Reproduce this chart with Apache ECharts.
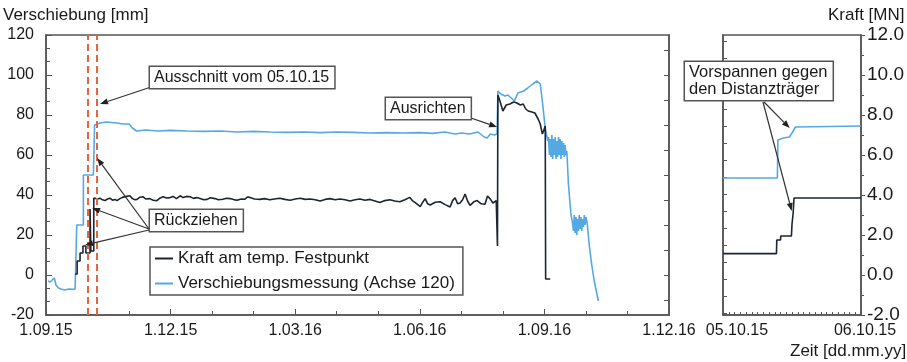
<!DOCTYPE html>
<html><head><meta charset="utf-8">
<script src="https://cdn.jsdelivr.net/npm/echarts@6/dist/echarts.min.js"></script>
<style>html,body{margin:0;padding:0;background:#fff}#c{width:907px;height:362px}</style>
</head><body><div id="c"></div>
<script>
// ---------- DATA ----------
// Left panel: x = months since 1.09.15
const xTickLabels = ['1.09.15', '1.12.15', '1.03.16', '1.06.16', '1.09.16', '1.12.16'];
const zoomTickLabels = ['05.10.15', '06.10.15'];
const seriesNames = ['Kraft am temp. Festpunkt', 'Verschiebungsmessung (Achse 120)'];
// Kraft [MN]
const kraftLeft = [
[0.70,0.05],[0.75,0.05],[0.75,0.70],[0.82,0.70],[0.82,1.10],[0.89,1.10],[0.89,1.45],[0.96,1.45],[0.96,1.10],[1.06,1.10],[1.06,3.30],[1.08,3.30],[1.08,1.20],[1.15,1.20],[1.15,3.85],
[1.18,3.87],[1.24,3.80],[1.30,3.84],[1.36,3.76],[1.42,3.72],[1.48,3.80],[1.54,3.84],[1.60,3.74],[1.66,3.78],[1.71,3.72],[1.78,3.82],[1.84,3.88],[1.88,3.85],[1.94,3.93],[2.02,3.96],[2.08,3.82],[2.14,3.76],[2.19,3.78],[2.26,3.89],[2.34,3.91],[2.40,3.80],[2.50,3.82],[2.58,3.74],[2.67,3.72],[2.74,3.84],[2.82,3.91],[2.90,3.85],[2.99,3.87],[3.06,3.93],[3.14,3.82],[3.23,3.96],[3.30,3.87],[3.38,3.93],[3.47,3.91],[3.55,3.83],[3.63,3.87],[3.71,3.82],[3.80,3.76],[3.88,3.78],[3.96,3.86],[4.07,3.82],[4.15,3.76],[4.26,3.79],[4.34,3.84],[4.43,3.82],[4.52,3.77],[4.60,3.74],[4.70,3.80],[4.79,3.79],[4.85,3.90],[4.91,3.88],[5.02,3.80],[5.15,3.78],[5.26,3.82],[5.39,3.76],[5.50,3.80],[5.63,3.84],[5.75,3.78],[5.88,3.74],[6.00,3.80],[6.12,3.84],[6.24,3.78],[6.36,3.80],[6.48,3.76],[6.60,3.70],[6.72,3.78],[6.84,3.82],[6.96,3.76],[7.08,3.80],[7.20,3.76],[7.32,3.70],[7.44,3.76],[7.56,3.80],[7.68,3.74],[7.80,3.78],[7.92,3.70],[8.04,3.62],[8.16,3.72],[8.28,3.76],[8.40,3.70],[8.52,3.66],[8.64,3.76],[8.76,3.88],[8.82,3.72],[8.89,3.62],[8.95,3.52],[9.01,3.42],[9.07,3.64],[9.13,3.82],[9.19,3.56],[9.25,3.50],[9.37,3.64],[9.49,3.66],[9.61,3.52],[9.73,3.40],[9.79,3.72],[9.85,3.86],[9.91,3.56],[9.97,3.60],[10.03,3.76],[10.09,4.05],[10.15,3.70],[10.21,3.48],[10.30,3.66],[10.38,3.72],[10.48,3.56],[10.57,3.54],[10.63,3.95],[10.69,3.82],[10.76,3.60],[10.84,3.72],[10.86,3.70],
[10.87,1.45],[10.88,9.00],[10.93,8.70],[11.00,8.20],[11.08,8.50],[11.17,8.55],[11.26,8.65],[11.34,8.60],[11.42,8.50],[11.49,8.55],[11.55,8.30],[11.61,8.20],[11.70,8.15],[11.77,8.10],[11.85,7.80],[11.90,7.55],[11.95,7.05],[11.98,7.20],[12.02,7.45],[12.03,-0.20],[12.14,-0.20]
];
// Verschiebung [mm]
const verschiebungLeft = [
[0.05,-3],[0.10,-3.5],[0.15,-2.5],[0.20,-1.5],[0.24,-5],[0.30,-6.5],[0.36,-7],[0.45,-7.5],[0.55,-7],[0.65,-7.2],[0.70,-7],[0.71,0.5],[0.74,0.5],[0.74,25],[0.90,25],[0.90,50],[1.14,50],[1.17,75],
[1.20,75.5],[1.30,76],[1.45,76.5],[1.70,76],[1.85,75.5],[2.00,75.5],[2.08,73.5],[2.18,72],[2.40,72.5],[2.70,72],[3.00,72.3],[3.40,72],[3.80,71.8],[4.20,72],[4.60,71.5],[5.00,71.8],[5.40,71.5],[5.80,71.3],[6.20,71.5],[6.60,71.2],[7.00,71.5],[7.40,71.3],[7.80,71],[8.20,71.2],[8.60,71],[9.00,71.2],[9.30,70.8],[9.60,71.5],[9.85,70.5],[10.00,71],[10.20,70.5],[10.40,71.5],[10.55,69],[10.62,68.5],[10.70,70.5],[10.80,70],[10.86,70.5],
[10.88,92],[10.95,90.5],[11.05,89.5],[11.12,90],[11.20,88.5],[11.28,87],[11.36,91],[11.50,92],[11.60,93.5],[11.72,95.5],[11.82,97],[11.90,95.5],[11.95,87],[12.02,73.5],[12.08,67],
[12.10,69],[12.12,60],[12.14,68],[12.16,59],[12.18,70],[12.20,58],[12.22,68],[12.24,60],[12.26,69],[12.28,58],[12.30,67],[12.32,59],[12.34,69],[12.36,60],[12.38,68],[12.40,58],[12.42,67],[12.44,60],[12.46,66],[12.48,59],[12.50,65],[12.52,60],[12.54,62],
[12.58,45],[12.64,30],[12.67,27],[12.70,22],[12.72,30],[12.74,21],[12.76,29],[12.78,20],[12.80,28],[12.82,22],[12.84,30],[12.86,23],[12.88,29],[12.90,22],[12.92,28],[12.94,24],[12.96,30],[12.98,25],[13.00,29],[13.03,26],
[13.08,15],[13.14,5],[13.20,-3],[13.26,-9],[13.30,-13]
];
// Right panel: x = hours on 05.10.15
const kraftRight = [[0,1.07],[9.3,1.07],[9.35,1.75],[10.0,1.75],[10.05,1.95],[11.9,1.95],[12.0,2.55],[12.2,3.1],[12.35,3.85],[24,3.85]];
const verschiebungRight = [[0,48.5],[9.45,48.5],[9.55,67.5],[10.5,68.5],[11.55,69],[12.0,71],[12.3,72],[12.6,74],[24,74.5]];
// window of the detail view (months), shown as dashed lines
const cutoutMarks = [1.01, 1.23];

// ---------- STYLE ----------
const FONT = 'Liberation Sans';
const TXT = '#1a1a1a';
const AX = '#555';
const C_K = '#1d2531';
const C_V = '#55a9e3';

const chart = echarts.init(document.getElementById('c'), null, {renderer: 'canvas'});
const axLine = {show: true, onZero: false, lineStyle: {color: AX, width: 1.5}};
const lbl = {fontFamily: FONT, fontSize: 16, color: TXT};
const range = (a, b, s) => { const r = []; for (let v = a; v <= b + 1e-9; v += s) r.push(+v.toFixed(4)); return r; };

const option = {
  animation: false,
  backgroundColor: '#fff',
  textStyle: {fontFamily: FONT},
  grid: [
    {left: 46, top: 35, width: 623, height: 280, show: true, borderColor: AX, borderWidth: 1.5, backgroundColor: 'transparent'},
    {left: 723, top: 35, width: 139, height: 280, show: true, borderColor: AX, borderWidth: 1.5, backgroundColor: 'transparent'}
  ],
  legend: {
    left: 150, top: 247, orient: 'vertical', itemGap: 8, itemWidth: 18, itemHeight: 2,
    padding: [3, 8, 3, 5], borderColor: AX, borderWidth: 1.5, backgroundColor: '#fff',
    icon: 'rect', data: seriesNames,
    textStyle: {fontFamily: FONT, fontSize: 17, color: TXT, lineHeight: 16}
  },
  xAxis: [
    {type: 'value', gridIndex: 0, min: 0, max: 15, interval: 3,
     axisLine: axLine, axisTick: {inside: true, length: 6, lineStyle: {color: AX}},
     minorTick: {show: true, splitNumber: 3, length: 4, lineStyle: {color: AX}},
     splitLine: {show: false}, minorSplitLine: {show: false},
     axisLabel: Object.assign({margin: 8, formatter: v => xTickLabels[Math.round(v / 3)]}, lbl)},
    {type: 'value', gridIndex: 1, min: 0, max: 24, interval: 24,
     axisLine: axLine, axisTick: {inside: true, length: 4, lineStyle: {color: AX}},
     minorTick: {show: true, splitNumber: 24, length: 3, lineStyle: {color: AX}},
     splitLine: {show: false}, minorSplitLine: {show: false},
     axisLabel: Object.assign({margin: 8,
       formatter: v => v === 0 ? '{a|' + zoomTickLabels[0] + '}' : '{b|' + zoomTickLabels[1] + '}',
       rich: {a: Object.assign({padding: [0, 0, 0, 28]}, lbl), b: Object.assign({padding: [0, 0, 0, 8]}, lbl)}}, lbl)}
  ],
  yAxis: [
    {type: 'value', gridIndex: 0, position: 'left', min: -20, max: 120, interval: 20,
     axisLine: axLine, axisTick: {inside: true, length: 6, lineStyle: {color: AX}},
     minorTick: {show: true, splitNumber: 3, length: 4, lineStyle: {color: AX}},
     splitLine: {show: false}, minorSplitLine: {show: false},
     axisLabel: Object.assign({margin: 12}, lbl)},
    {type: 'value', gridIndex: 0, position: 'right', min: -2, max: 12,
     axisLine: axLine, axisTick: {inside: true, length: 5, lineStyle: {color: AX}, customValues: range(-1.25, 11.25, 1.25)},
     splitLine: {show: false}, axisLabel: {show: false}},
    {type: 'value', gridIndex: 1, position: 'left', min: -20, max: 120,
     axisLine: axLine, axisTick: {inside: true, length: 4, lineStyle: {color: AX}, customValues: range(-19, 117, 8.5)},
     splitLine: {show: false}, axisLabel: {show: false}},
    {type: 'value', gridIndex: 1, position: 'right', min: -2, max: 12, interval: 2,
     axisLine: axLine, axisTick: {inside: false, length: 4, lineStyle: {color: AX}},
     minorTick: {show: true, splitNumber: 2, length: 3, lineStyle: {color: AX}},
     splitLine: {show: false}, minorSplitLine: {show: false},
     axisLabel: Object.assign({}, lbl, {margin: 6, fontSize: 19, formatter: v => v.toFixed(1)})}
  ],
  series: [
    {name: seriesNames[0], type: 'line', xAxisIndex: 0, yAxisIndex: 1, data: kraftLeft, showSymbol: false, symbol: 'none',
     lineStyle: {color: C_K, width: 1.6}, itemStyle: {color: C_K}, z: 3},
    {name: seriesNames[1], type: 'line', xAxisIndex: 0, yAxisIndex: 0, data: verschiebungLeft, showSymbol: false, symbol: 'none',
     lineStyle: {color: C_V, width: 1.6}, itemStyle: {color: C_V}, z: 2,
     markLine: {silent: true, symbol: 'none', label: {show: false},
       lineStyle: {color: '#e8643c', type: [7, 4], width: 2},
       data: cutoutMarks.map(m => ({xAxis: m}))}},
    {name: seriesNames[0], type: 'line', xAxisIndex: 1, yAxisIndex: 3, data: kraftRight, showSymbol: false, symbol: 'none',
     lineStyle: {color: C_K, width: 1.6}, itemStyle: {color: C_K}, z: 3},
    {name: seriesNames[1], type: 'line', xAxisIndex: 1, yAxisIndex: 2, data: verschiebungRight, showSymbol: false, symbol: 'none',
     lineStyle: {color: C_V, width: 1.6}, itemStyle: {color: C_V}, z: 2}
  ]
};
chart.setOption(option);

// ---------- ANNOTATIONS ----------
const annotations = [
  {text: 'Ausschnitt vom 05.10.15', x: 150, y: 67, arrows: [{from: [151, 87], axes: [0, 0], to: [1.30, 85.5]}]},
  {text: 'Rückziehen', x: 150, y: 210, arrows: [
     {from: [149, 229], axes: [0, 0], to: [1.23, 58.5]},
     {from: [149, 229], axes: [0, 0], to: [1.11, 33.5]},
     {from: [149, 230], axes: [0, 0], to: [0.94, 15]}]},
  {text: 'Ausrichten', x: 386, y: 98, arrows: [{from: [468, 117], axes: [0, 0], to: [10.86, 74]}]},
  {text: 'Vorspannen gegen\nden Distanzträger', x: 685, y: 62, fs: 16.5, arrows: [
     {from: [764, 102], axes: [1, 2], to: [11.6, 73.5]},
     {from: [763, 102], axes: [1, 2], to: [11.95, 32]}]}
];
const graphics = [];
annotations.forEach(a => {
  a.arrows.forEach(ar => {
    const p = chart.convertToPixel({xAxisIndex: ar.axes[0], yAxisIndex: ar.axes[1]}, ar.to);
    const [x0, y0] = ar.from; const [x1, y1] = p;
    const ang = Math.atan2(y1 - y0, x1 - x0), L = 8, W = 3;
    const bx = x1 - L * Math.cos(ang), by = y1 - L * Math.sin(ang);
    graphics.push({type: 'line', z: 50, shape: {x1: x0, y1: y0, x2: bx, y2: by}, style: {stroke: '#333', lineWidth: 1.2}});
    graphics.push({type: 'polygon', z: 50, shape: {points: [[x1, y1], [bx + W * Math.sin(ang), by - W * Math.cos(ang)], [bx - W * Math.sin(ang), by + W * Math.cos(ang)]]}, style: {fill: '#222'}});
  });
  graphics.push({type: 'text', z: 60, x: a.x, y: a.y, style: {
    text: a.text, font: (a.fs || 16) + 'px "Liberation Sans"', fill: TXT, lineHeight: 17,
    backgroundColor: '#fff', borderColor: AX, borderWidth: 1.5, padding: [2, 5, 2, 4]}});
});
// axis titles
const titleFont = '17px "Liberation Sans"';
graphics.push({type: 'text', left: 3, top: 7, style: {text: 'Verschiebung [mm]', font: titleFont, fill: TXT}});
graphics.push({type: 'text', x: 828, y: 7, style: {text: 'Kraft [MN]', font: titleFont, fill: TXT}});
graphics.push({type: 'text', x: 790, y: 343, style: {text: 'Zeit [dd.mm.yy]', font: titleFont, fill: TXT}});
chart.setOption({graphic: graphics});
</script></body></html>
